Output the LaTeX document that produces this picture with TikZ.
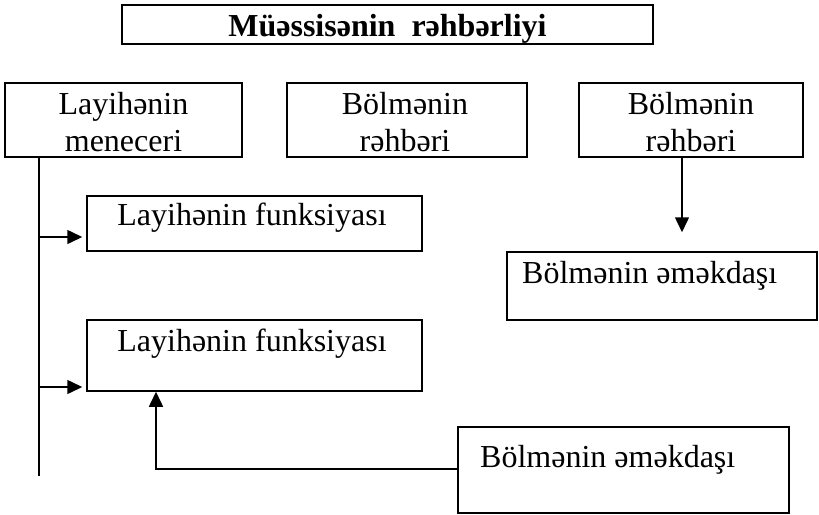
\documentclass[tikz,border=0pt]{standalone}
\usepackage{fontspec}
\setmainfont{Liberation Serif}
\usetikzlibrary{arrows.meta}
\begin{document}
\begin{tikzpicture}[x=1pt,y=-1pt,
  box/.style={draw, line width=1.5pt, inner sep=0pt, rectangle},
  lbl/.style={inner sep=0pt, anchor=base, font=\fontsize{32}{38}\selectfont},
  lbll/.style={lbl, anchor=base west},
  conn/.style={line width=1.5pt},
  arr/.style={conn, -{Triangle[length=15pt,width=14pt]}}]
\useasboundingbox (0,0) rectangle (819,514);

% boxes
\node[box, minimum width=531pt, minimum height=39pt] (title) at (387.5,24.5) {};
\node[box, minimum width=237pt, minimum height=74pt] (mgr)   at (123.5,120) {};
\node[box, minimum width=240pt, minimum height=74pt] (head1) at (407,120) {};
\node[box, minimum width=224pt, minimum height=74pt] (head2) at (691,120) {};
\node[box, minimum width=335pt, minimum height=55pt] (f1)    at (254.5,223.5) {};
\node[box, minimum width=335pt, minimum height=71pt] (f2)    at (254.5,355.5) {};
\node[box, minimum width=310pt, minimum height=68pt] (emp1)  at (662,286) {};
\node[box, minimum width=331pt, minimum height=86pt] (emp2)  at (623.5,470) {};

% texts
\node[lbl, font=\fontsize{32}{38}\selectfont\bfseries] (t-title) at (387.5,36) {Müəssisənin\ \ rəhbərliyi};
\node[lbl] (t-mgr-a) at (123.5,114) {Layihənin};
\node[lbl] (t-mgr-b) at (123.5,151) {meneceri};
\node[lbl] (t-h1-a) at (405,114) {Bölmənin};
\node[lbl] (t-h1-b) at (405,151) {rəhbəri};
\node[lbl] (t-h2-a) at (691,114) {Bölmənin};
\node[lbl] (t-h2-b) at (691,151) {rəhbəri};
\node[lbl] (t-f1) at (252,225) {Layihənin funksiyası};
\node[lbl] (t-f2) at (252,351) {Layihənin funksiyası};
\node[lbll] (t-e1) at (522,283) {Bölmənin əməkdaşı};
\node[lbll] (t-e2) at (480,467) {Bölmənin əməkdaşı};

% connector anchors
\coordinate (trunkend) at (39,476);
\coordinate (a1) at (39,237);
\coordinate (a2) at (39,387);
\coordinate (c1) at (156,469);
\coordinate (dn) at (682,0);

% trunk from the project manager
\draw[conn] (trunkend |- mgr.south) -- (trunkend);
\draw[arr, shorten >=4pt] (a1) -- (a1 -| f1.west);
\draw[arr, shorten >=4pt] (a2) -- (a2 -| f2.west);

% employee feeding the second function
\draw[arr] (c1 -| emp2.west) -- (c1) -- (c1 |- f2.south);

% head to employee
\draw[arr, shorten >=19pt] (dn |- head2.south) -- (dn |- emp1.north);
\end{tikzpicture}
\end{document}
